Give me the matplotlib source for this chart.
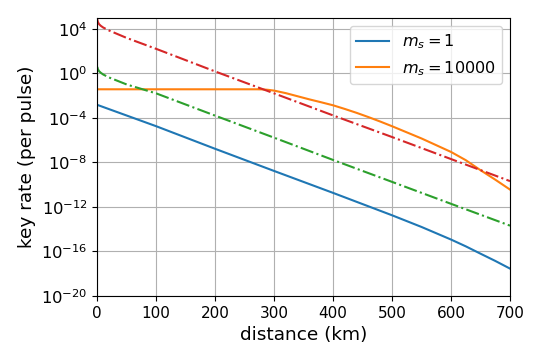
import numpy as np
import matplotlib

matplotlib.use("Agg")
import matplotlib.pyplot as plt

# values, stored as log10(key rate)
dist_blue = [0, 100, 200, 300, 400, 500, 550, 600, 625, 650, 675, 700]
log_blue = [-2.83, -4.75, -6.78, -8.77, -10.74, -12.75, -13.8, -14.93, -15.54, -16.2, -16.85, -17.54]

dist_orange = [0, 100, 200, 250, 270, 280, 290, 300, 320, 340, 360, 380, 400,
               420, 440, 460, 480, 500, 550, 600, 625, 650, 675, 700]
log_orange = [-1.43, -1.43, -1.43, -1.43, -1.43, -1.44, -1.48, -1.55, -1.78, -2.06, -2.34, -2.6, -2.87,
              -3.2, -3.55, -3.93, -4.33, -4.75, -5.85, -7.06, -7.8, -8.7, -9.55, -10.44]

dist_bound = [0, 1, 3, 6, 10, 20, 50, 100, 200, 300, 400, 500, 600, 700]
log_red = [4.86, 4.62, 4.42, 4.27, 4.12, 3.85, 3.18, 2.2, 0.17, -1.8, -3.78, -5.72, -7.7, -9.68]
log_green = [0.58, 0.38, 0.2, 0.05, -0.1, -0.37, -1.0, -1.8, -3.8, -5.78, -7.78, -9.75, -11.72, -13.68]

labels = ["$m_s = 1$", "$m_s = 10000$"]

fig = plt.figure(figsize=(5.45, 3.63), dpi=100)
ax = fig.add_axes([0.1785, 0.1846, 0.9358 - 0.1785, 0.9512 - 0.1846])

ax.plot(dist_blue, 10.0 ** np.array(log_blue), color="C0", lw=1.5, label=labels[0])
ax.plot(dist_orange, 10.0 ** np.array(log_orange), color="C1", lw=1.5, label=labels[1])
ax.plot(dist_bound, 10.0 ** np.array(log_red), color="C3", ls="-.", lw=1.5)
ax.plot(dist_bound, 10.0 ** np.array(log_green), color="C2", ls="-.", lw=1.5)

ax.set_yscale("log")
ax.set_xlim(0, 700)
ax.set_ylim(1e-20, 1e5)
ax.set_yticks([10.0 ** k for k in range(-20, 5, 4)])
ax.minorticks_off()
ax.grid(True)

ax.tick_params(axis="x", labelsize=11)
ax.tick_params(axis="y", labelsize=11.8)
ax.set_xlabel("distance (km)", fontsize=13.3)
ax.set_ylabel("key rate (per pulse)", fontsize=13.3)
ax.legend(loc="upper right", fontsize=11.6)

fig.savefig("out.png", dpi=100)
plt.close(fig)
